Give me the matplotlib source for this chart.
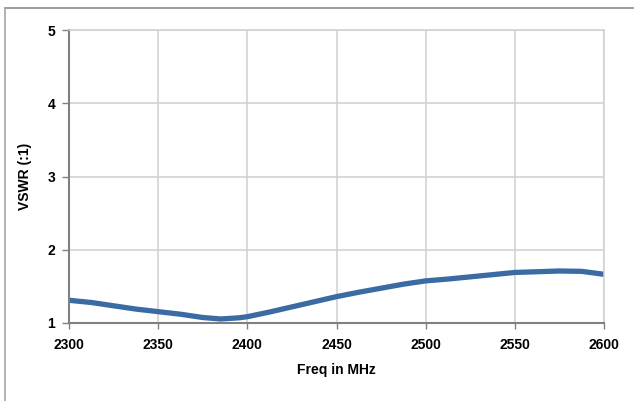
import numpy as np
import matplotlib
matplotlib.use('Agg')
import matplotlib.pyplot as plt
from matplotlib.lines import Line2D

# values
freq = [2300, 2312.5, 2325, 2337.5, 2350, 2362.5, 2375, 2385, 2395, 2400,
        2412.5, 2425, 2437.5, 2450, 2462.5, 2475, 2487.5, 2500, 2512.5,
        2525, 2537.5, 2550, 2562.5, 2575, 2587.5, 2600]
vswr = [1.31, 1.28, 1.235, 1.19, 1.155, 1.12, 1.075, 1.055, 1.07, 1.086,
        1.15, 1.22, 1.29, 1.36, 1.42, 1.475, 1.53, 1.575, 1.60,
        1.63, 1.66, 1.69, 1.70, 1.71, 1.705, 1.665]
x_ticks = [2300, 2350, 2400, 2450, 2500, 2550, 2600]
y_ticks = [1, 2, 3, 4, 5]

plt.rcParams['font.family'] = ['Liberation Sans', 'DejaVu Sans']

fig = plt.figure(figsize=(6.34, 4.01), dpi=100)
ax = fig.add_axes([69/634, 1 - 323/401, 535/634, 293/401])

# outer chart frame (only top and left edges show in the picture)
fig.add_artist(Line2D([5/634, 1], [1 - 8/401, 1 - 8/401], color='#8c8c8c', lw=1.2))
fig.add_artist(Line2D([5/634, 5/634], [0, 1 - 8/401], color='#a6a6a6', lw=1.2))

ax.plot(freq, vswr, color='#3a6ba3', lw=3.8, solid_capstyle='butt')

ax.set_xlim(2300, 2600)
ax.set_ylim(1, 5)
ax.set_xticks(x_ticks)
ax.set_yticks(y_ticks)
ax.grid(True, color='#d0d0d0', lw=1.1)
ax.set_axisbelow(True)

for s in ['top', 'right']:
    ax.spines[s].set_color('#d0d0d0')
    ax.spines[s].set_linewidth(1.1)
for s in ['left', 'bottom']:
    ax.spines[s].set_color('#808080')
    ax.spines[s].set_linewidth(1.5)

ax.tick_params(axis='y', length=5, width=1, color='#808080', pad=5)
ax.tick_params(axis='x', length=4, width=1, color='#808080', pad=7)
for lab in ax.get_xticklabels() + ax.get_yticklabels():
    lab.set_fontweight('bold')
    lab.set_fontsize(10)

ax.set_xlabel('Freq in MHz', fontsize=10, fontweight='bold', labelpad=8)
ax.set_ylabel('VSWR (:1)', fontsize=10, fontweight='bold', labelpad=11)

fig.savefig('out.png', dpi=100)
